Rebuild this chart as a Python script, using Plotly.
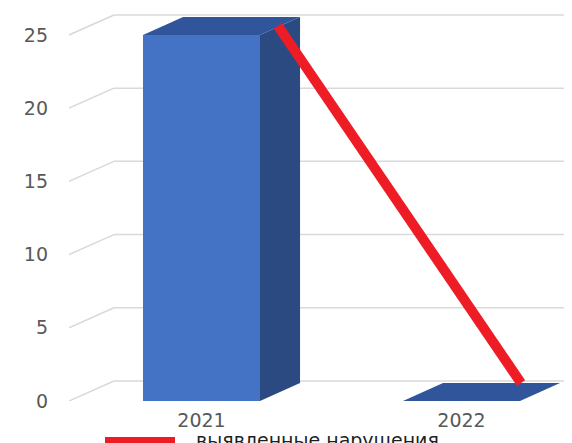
import plotly.graph_objects as go

# ---- data ----
categories = ["2021", "2022"]
bar_values = [25, 0]
line_values = [25, 0]
series_name = "выявленные нарушения"
y_ticks = [0, 5, 10, 15, 20, 25]

# ---- style / geometry (data units) ----
FRONT = "#4472C4"
SIDE = "#2B4A82"
TOP = "#30559A"
RED = "#EE1C25"
GRID = "#D9D9D9"
TXT = "#595959"
FONT = "DejaVu Sans"

half_w = 0.225      # half bar width (x units)
depth_x = 0.154     # 3D depth offset (x units)
depth_y = 1.23      # 3D depth offset (y units)
grid_dx = 0.173
grid_dy = 1.366
x_range = [-0.5096, 1.425]
y_range = [0, 26.84]

fig = go.Figure()

xs = list(range(len(categories)))
for xi, v in zip(xs, bar_values):
    l, r = xi - half_w, xi + half_w
    faces = [
        ([l, r, r, l, l], [0, 0, v, v, 0], FRONT),
        ([r, r + depth_x, r + depth_x, r, r], [0, depth_y, v + depth_y, v, 0], SIDE),
        ([l, r, r + depth_x, l + depth_x, l], [v, v, v + depth_y, v + depth_y, v], TOP),
    ]
    for fx, fy, col in faces:
        fig.add_trace(go.Scatter(
            x=fx, y=fy, mode="lines", fill="toself", fillcolor=col,
            line=dict(width=0, color=col), hoverinfo="skip", showlegend=False,
        ))

# red line on overlaid axes
fig.add_trace(go.Scatter(
    x=categories, y=line_values, mode="lines", name=series_name,
    line=dict(color=RED, width=10), xaxis="x2", yaxis="y2", showlegend=False,
    hoverinfo="skip",
))

# back-wall gridlines with perspective
shapes = []
for t in y_ticks:
    shapes.append(dict(type="line", xref="x", yref="y", layer="below",
                       x0=x_range[0], y0=t, x1=x_range[0] + grid_dx, y1=t + grid_dy,
                       line=dict(color=GRID, width=1.5)))
    shapes.append(dict(type="line", xref="x", yref="y", layer="below",
                       x0=x_range[0] + grid_dx, y0=t + grid_dy, x1=x_range[1], y1=t + grid_dy,
                       line=dict(color=GRID, width=1.5)))

# page offset of 8px (body margin) -> positions given in reference pixels
plot_h = 393
def py(p):
    return (401 - p) / plot_h
def px(p):
    return (p - 69) / 503

shapes.append(dict(type="line", xref="paper", yref="paper",
                   x0=px(105), x1=px(175), y0=py(442), y1=py(442),
                   line=dict(color=RED, width=10)))

fig.update_layout(
    width=564, height=435,
    margin=dict(l=61, r=0, t=0, b=42, autoexpand=False),
    paper_bgcolor="white", plot_bgcolor="white",
    showlegend=False,
    shapes=shapes,
    annotations=[dict(text=series_name, xref="paper", yref="paper",
                      x=px(194), y=py(440), xanchor="left", yanchor="middle",
                      showarrow=False, font=dict(family=FONT, size=19, color="#1F1F1F"))],
    xaxis=dict(range=x_range, tickvals=xs, ticktext=categories, showgrid=False,
               zeroline=False, showline=False, ticks="", ticklabelstandoff=6,
               tickfont=dict(family=FONT, size=19, color=TXT), fixedrange=True),
    yaxis=dict(range=y_range, tickvals=y_ticks, showgrid=False, zeroline=False,
               showline=False, ticks="", ticklabelstandoff=20,
               tickfont=dict(family=FONT, size=19, color=TXT), fixedrange=True),
    xaxis2=dict(overlaying="x", type="category", range=[-0.860, 1.2099],
                visible=False, fixedrange=True),
    yaxis2=dict(overlaying="y", range=[-1.2605, 26.26], visible=False, fixedrange=True),
)

fig.write_html("out.html")
